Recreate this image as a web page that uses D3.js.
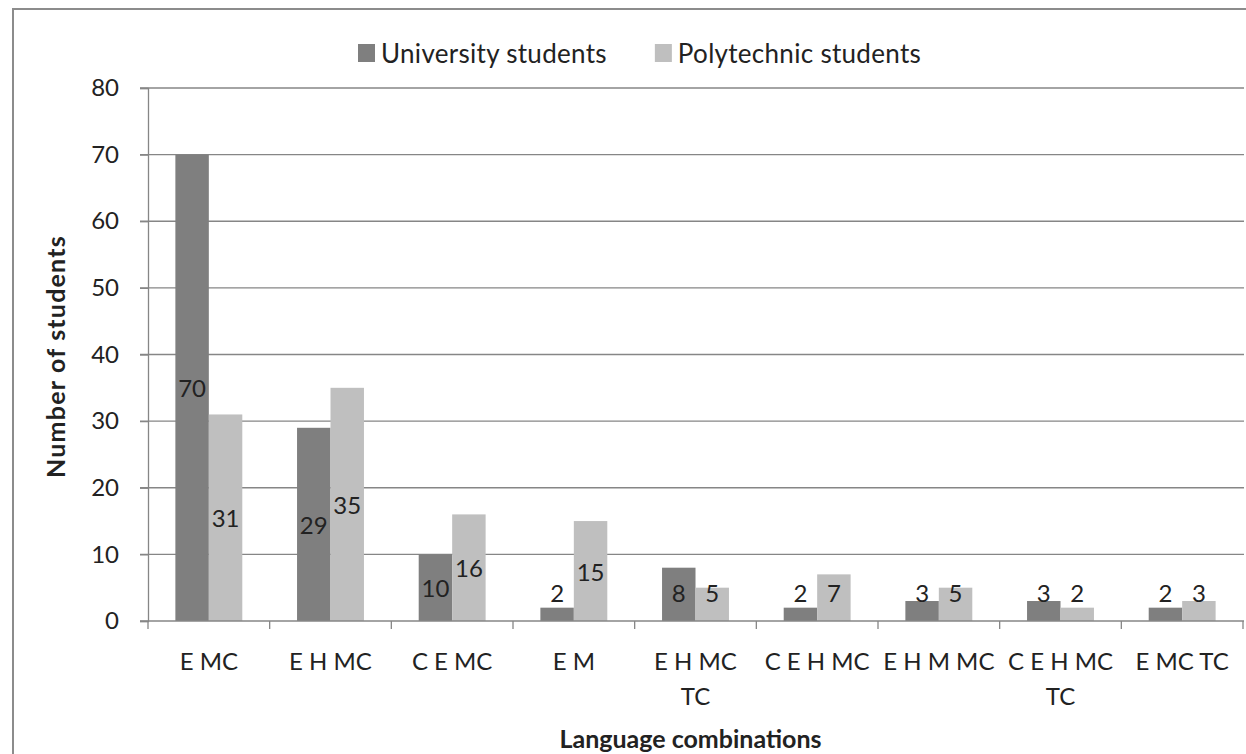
<!DOCTYPE html>
<html>
<head>
<meta charset="utf-8">
<script src="https://cdn.jsdelivr.net/npm/d3@7/dist/d3.min.js"></script>
<style>
  html, body { margin: 0; padding: 0; background: #fff; }
  svg text { font-family: Lato, "Open Sans", sans-serif; fill: #222; }
</style>
</head>
<body>
<svg id="chart" width="1246" height="754"></svg>
<script>
// Language combinations (each label line is a separate entry)
const categories = [
  ["E MC"], ["E H MC"], ["C E MC"], ["E M"], ["E H MC", "TC"],
  ["C E H MC"], ["E H M MC"], ["C E H MC", "TC"], ["E MC TC"]
];
const universityStudents  = [70, 29, 10, 2, 8, 2, 3, 3, 2];
const polytechnicStudents = [31, 35, 16, 15, 5, 7, 5, 2, 3];
const seriesNames = ["University students", "Polytechnic students"];
const seriesColors = ["#7f7f7f", "#bfbfbf"];
const yTicks = [0, 10, 20, 30, 40, 50, 60, 70, 80];

const svg = d3.select("#chart");
const margin = { left: 148, right: 3, top: 88, bottom: 133 };
const W = 1246, H = 754;
const plotW = W - margin.left - margin.right;
const plotH = H - margin.top - margin.bottom;

// Outer chart frame
svg.append("path")
  .attr("d", `M13,754 V9 H1246`)
  .attr("fill", "none").attr("stroke", "#8c8c8c").attr("stroke-width", 2);

const g = svg.append("g").attr("transform", `translate(${margin.left},${margin.top})`);

const x = d3.scaleBand().domain(d3.range(categories.length)).range([0, plotW]).padding(0);
const y = d3.scaleLinear().domain([0, 80]).range([plotH, 0]);

// Horizontal gridlines with left tick stubs
g.append("g").selectAll("line").data(yTicks.filter(d => d > 0)).join("line")
  .attr("x1", -8).attr("x2", plotW + 1)
  .attr("y1", d => y(d)).attr("y2", d => y(d))
  .attr("stroke", "#868686").attr("stroke-width", 1.3);

// Y axis
const yAxis = g.append("g").call(d3.axisLeft(y).tickValues(yTicks).tickSize(8).tickPadding(21));
yAxis.select(".domain").attr("stroke", "#868686").attr("stroke-width", 1.3);
yAxis.selectAll(".tick line").attr("stroke", "#868686").attr("stroke-width", 1.3);
yAxis.selectAll(".tick text").attr("font-size", 24).attr("font-family", "Lato, sans-serif").attr("fill", "#222");

// Bars
const barW = x.bandwidth() * 0.275;
const seriesData = [universityStudents, polytechnicStudents];
seriesData.forEach((vals, si) => {
  const grp = g.append("g");
  grp.selectAll("rect").data(vals).join("rect")
    .attr("x", (d, i) => x(i) + x.bandwidth() / 2 - barW + si * barW)
    .attr("y", d => y(d))
    .attr("width", barW)
    .attr("height", d => y(0) - y(d))
    .attr("fill", seriesColors[si]);
  // Value labels: centred in the bar, kept clear of the baseline for short bars
  grp.selectAll("text").data(vals).join("text")
    .attr("x", (d, i) => x(i) + x.bandwidth() / 2 - barW / 2 + si * barW)
    .attr("y", d => Math.min(y(d / 2), y(0) - 29))
    .attr("text-anchor", "middle").attr("dominant-baseline", "central")
    .attr("font-size", 24)
    .text(d => d);
});

// X axis line and category separators
g.append("line").attr("x1", -8).attr("x2", plotW + 1).attr("y1", plotH).attr("y2", plotH)
  .attr("stroke", "#868686").attr("stroke-width", 1.3);
g.append("g").selectAll("line").data(d3.range(categories.length + 1)).join("line")
  .attr("x1", i => i * x.bandwidth()).attr("x2", i => i * x.bandwidth())
  .attr("y1", plotH).attr("y2", plotH + 8)
  .attr("stroke", "#868686").attr("stroke-width", 1.3);

// Category labels
const catG = g.append("g");
categories.forEach((lines, i) => {
  const t = catG.append("text")
    .attr("x", x(i) + x.bandwidth() / 2)
    .attr("y", plotH + 32)
    .attr("text-anchor", "middle").attr("font-size", 24);
  lines.forEach((ln, k) => {
    t.append("tspan").attr("x", x(i) + x.bandwidth() / 2)
      .attr("dy", k === 0 ? "0.71em" : "1.45em").text(ln);
  });
});

// Axis titles
svg.append("text")
  .attr("x", margin.left + plotW / 2 - 5).attr("y", 738)
  .attr("text-anchor", "middle").attr("dominant-baseline", "central")
  .attr("font-size", 25).attr("font-weight", "bold")
  .text("Language combinations");
svg.append("text")
  .attr("transform", `translate(55,${margin.top + plotH / 2 + 2}) rotate(-90)`)
  .attr("text-anchor", "middle").attr("dominant-baseline", "central")
  .attr("font-size", 25).attr("font-weight", "bold").attr("letter-spacing", 1.2)
  .text("Number of students");

// Legend
const legend = svg.append("g").attr("transform", "translate(358,53)");
let lx = 0;
seriesNames.forEach((name, i) => {
  const item = legend.append("g").attr("transform", `translate(${lx},0)`);
  item.append("rect").attr("x", 0).attr("y", -9).attr("width", 17).attr("height", 18).attr("fill", seriesColors[i]);
  const t = item.append("text").attr("x", 23).attr("y", 0)
    .attr("dominant-baseline", "central").attr("font-size", 26).attr("letter-spacing", 0.3).text(name);
  lx += 23 + t.node().getComputedTextLength() + 48;
});
</script>
</body>
</html>
